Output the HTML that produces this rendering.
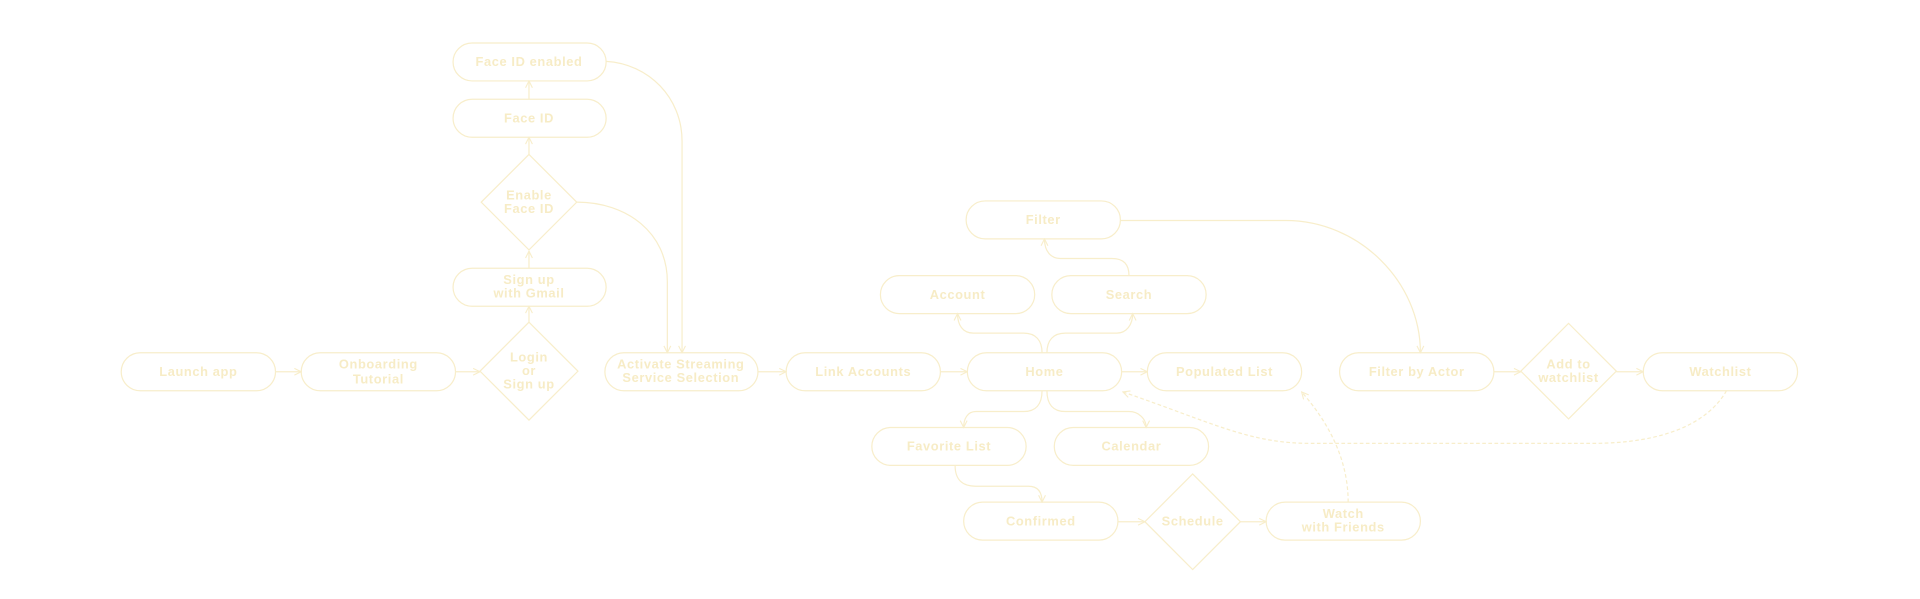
<!DOCTYPE html>
<html><head><meta charset="utf-8"><style>
html,body{margin:0;padding:0;background:#fff;width:1920px;height:599px;overflow:hidden}
svg text{font-family:"Liberation Sans",sans-serif;font-weight:bold;font-size:10.5px;fill:#f7ecc6;text-anchor:middle;letter-spacing:0.5px}
</style></head><body>
<svg width="1920" height="599" viewBox="0 0 1568 489" xmlns="http://www.w3.org/2000/svg">
<defs>
<marker id="a" viewBox="0 0 10 10" refX="9" refY="5" markerWidth="7" markerHeight="7" orient="auto-start-reverse" markerUnits="userSpaceOnUse">
<path d="M1,1 L9,5 L1,9" fill="none" stroke="#f8eecb" stroke-width="1.3"/></marker>
</defs>
<g fill="none" stroke="#f8eecb" stroke-width="1">
<rect x="99" y="288" width="126" height="31" rx="15.5"/>
<rect x="246" y="288" width="126" height="31" rx="15.5"/>
<rect x="370" y="219" width="125" height="31" rx="15.5"/>
<rect x="370" y="81" width="125" height="31" rx="15.5"/>
<rect x="370" y="35" width="125" height="31" rx="15.5"/>
<rect x="494" y="288" width="125" height="31" rx="15.5"/>
<rect x="642" y="288" width="126" height="31" rx="15.5"/>
<rect x="790" y="288" width="126" height="31" rx="15.5"/>
<rect x="937" y="288" width="126" height="31" rx="15.5"/>
<rect x="719" y="225" width="126" height="31" rx="15.5"/>
<rect x="859" y="225" width="126" height="31" rx="15.5"/>
<rect x="789" y="164" width="126" height="31" rx="15.5"/>
<rect x="712" y="349" width="126" height="31" rx="15.5"/>
<rect x="861" y="349" width="126" height="31" rx="15.5"/>
<rect x="787" y="410" width="126" height="31" rx="15.5"/>
<rect x="1034" y="410" width="126" height="31" rx="15.5"/>
<rect x="1094" y="288" width="126" height="31" rx="15.5"/>
<rect x="1342" y="288" width="126" height="31" rx="15.5"/>
<path d="M432,263 L472,303 L432,343 L392,303 Z"/>
<path d="M432,126 L471,165 L432,204 L393,165 Z"/>
<path d="M974,387 L1013,426 L974,465 L935,426 Z"/>
<path d="M1281,264 L1320,303 L1281,342 L1242,303 Z"/>
<g marker-end="url(#a)">
<path d="M225,303.5 H246"/>
<path d="M372,303.5 H392"/>
<path d="M432,263 V250"/>
<path d="M432,219 V205"/>
<path d="M432,126 V112"/>
<path d="M432,81 V66"/>
<path d="M495,50 C530,52 557,80 557,115 V288"/>
<path d="M471,165 C512,165 545,190 545,230 V288"/>
<path d="M619,303.5 H642"/>
<path d="M768,303.5 H790"/>
<path d="M916,303.5 H937"/>
<path d="M851,288 C851,278 846,272 836,272 H795 C786,272 782,265 782,256"/>
<path d="M855,288 C855,278 860,272 870,272 H912 C920,272 925,265 925,256"/>
<path d="M922,225 C922,216 918,211 908,211 H866 C858,211 853,205 853,195"/>
<path d="M915,180 H1050 C1110,180 1160,230 1160,288"/>
<path d="M851,319 C851,330 846,336 836,336 H797 C790,336 787,342 787,349"/>
<path d="M855,319 C855,330 860,336 870,336 H922 C930,336 936,342 936,349"/>
<path d="M780,380 C780,392 786,397 797,397 H840 C848,397 851,402 851,410"/>
<path d="M913,426 H935"/>
<path d="M1013,426 H1034"/>
<path d="M1220,303.5 H1242"/>
<path d="M1320,303.5 H1342"/>
<path d="M1101,410 C1101,375 1085,345 1063,320" stroke-dasharray="3,2"/>
<path d="M1410,319 C1395,345 1360,362 1300,362 H1070 C1020,362 990,345 917,320" stroke-dasharray="3,2"/>
</g>
</g>
<text x="162" y="307">Launch app</text>
<text x="309" y="301">Onboarding</text><text x="309" y="313">Tutorial</text>
<text x="432" y="295">Login</text><text x="432" y="306">or</text><text x="432" y="317">Sign up</text>
<text x="432" y="232">Sign up</text><text x="432" y="243">with Gmail</text>
<text x="432" y="163">Enable</text><text x="432" y="174">Face ID</text>
<text x="432" y="100">Face ID</text>
<text x="432" y="54">Face ID enabled</text>
<text x="556" y="301">Activate Streaming</text><text x="556" y="312">Service Selection</text>
<text x="705" y="307">Link Accounts</text>
<text x="853" y="307">Home</text>
<text x="1000" y="307">Populated List</text>
<text x="782" y="244">Account</text>
<text x="922" y="244">Search</text>
<text x="852" y="183">Filter</text>
<text x="775" y="368">Favorite List</text>
<text x="924" y="368">Calendar</text>
<text x="850" y="429">Confirmed</text>
<text x="974" y="429">Schedule</text>
<text x="1097" y="423">Watch</text><text x="1097" y="434">with Friends</text>
<text x="1157" y="307">Filter by Actor</text>
<text x="1281" y="301">Add to</text><text x="1281" y="312">watchlist</text>
<text x="1405" y="307">Watchlist</text>
</svg>
</body></html>
